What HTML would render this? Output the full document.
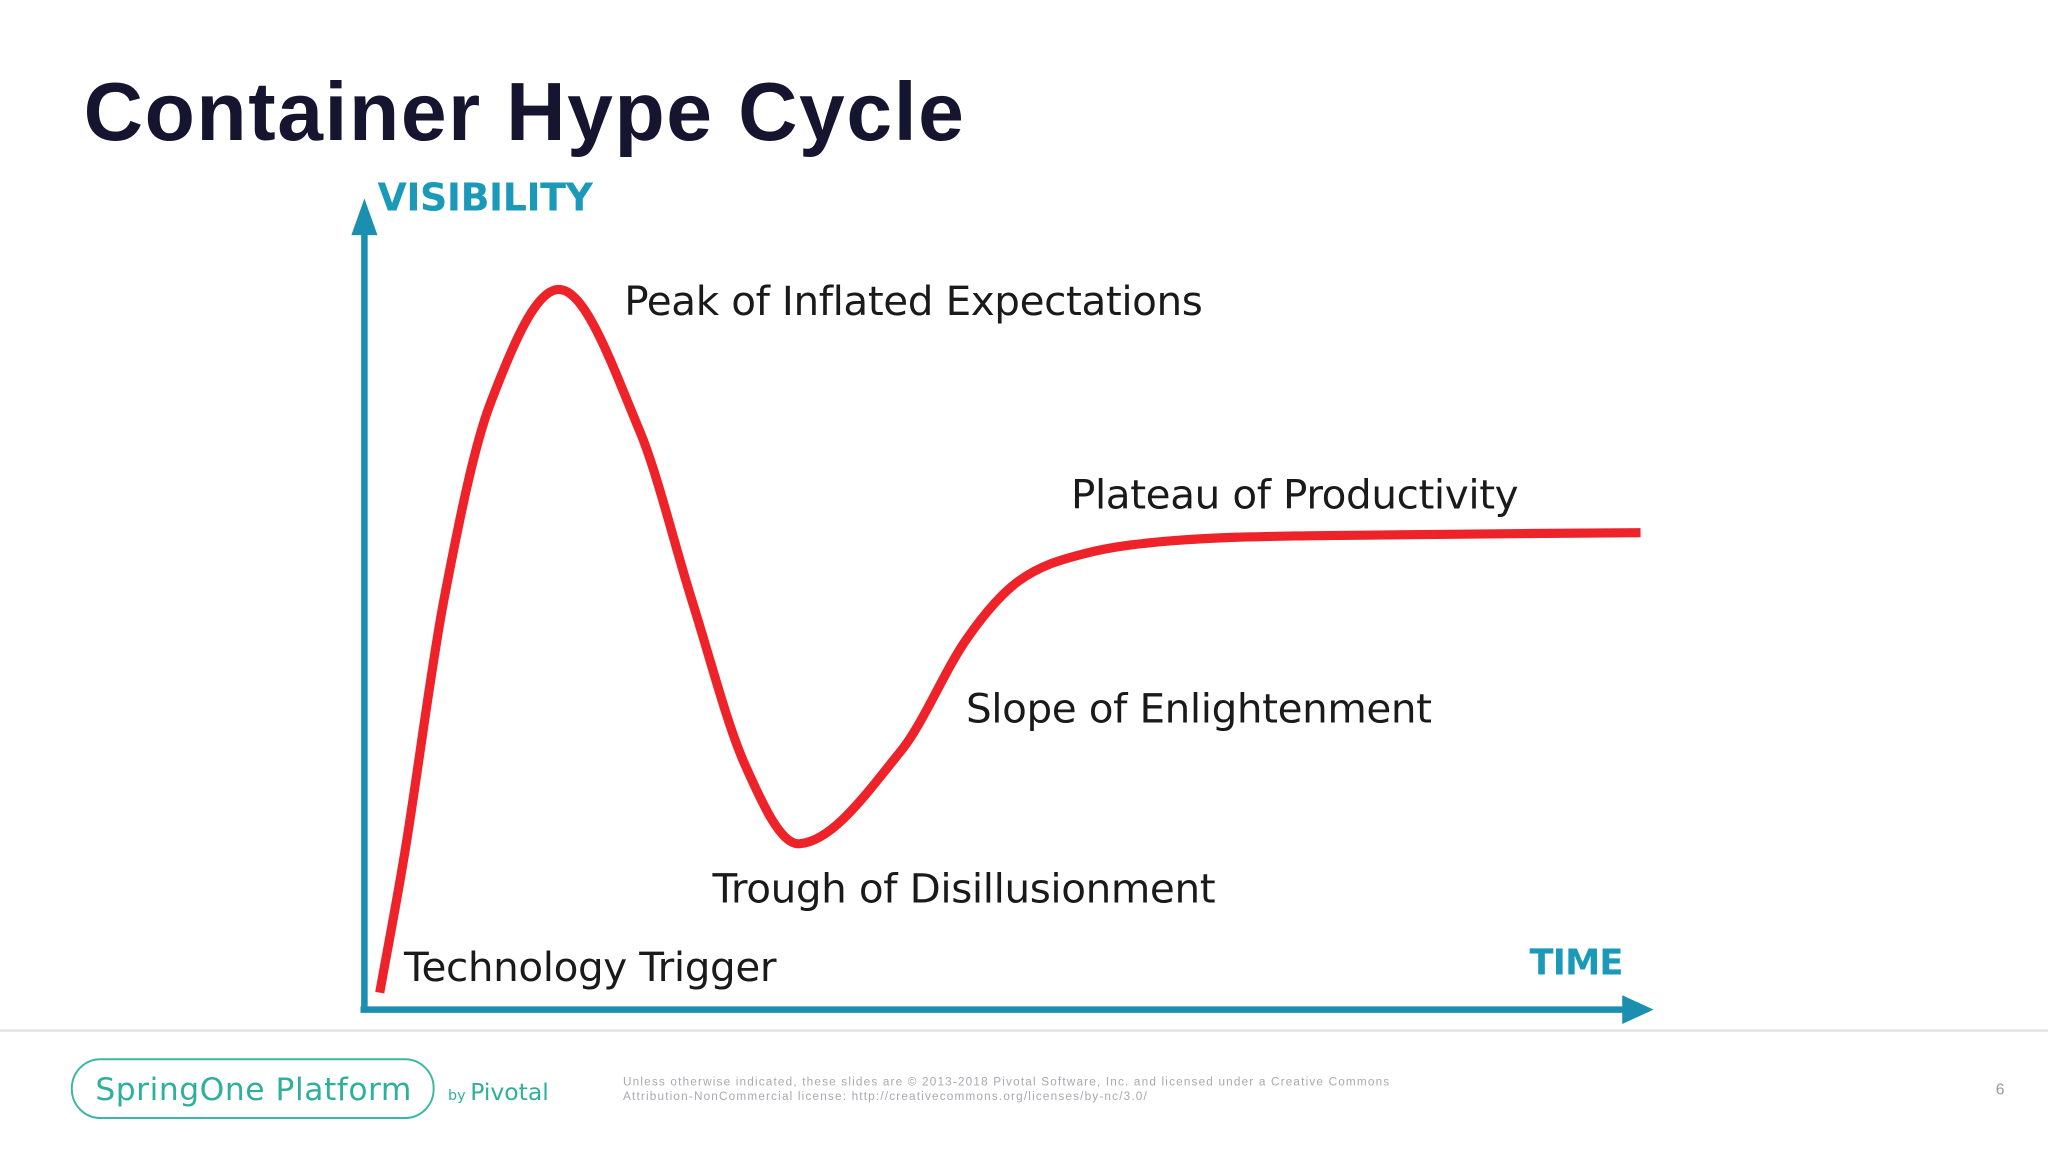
<!DOCTYPE html>
<html><head><meta charset="utf-8">
<style>
html,body{margin:0;padding:0;background:#fff;}
svg{display:block;}
</style></head>
<body>
<svg id="s" width="2048" height="1152" viewBox="0 0 1568 882" preserveAspectRatio="none" xmlns="http://www.w3.org/2000/svg">
<rect width="1568" height="882" fill="#fff"/>
<text x="64" y="107" font-family="Liberation Sans, sans-serif" font-weight="bold" font-size="63" fill="#151530" textLength="674">Container Hype Cycle</text>
<text x="289" y="161" font-family="DejaVu Sans, sans-serif" font-weight="bold" font-size="29" fill="#1a9ab8" textLength="165">VISIBILITY</text>
<text x="1171" y="746" font-family="DejaVu Sans, sans-serif" font-weight="bold" font-size="27" fill="#1a9ab8" textLength="72">TIME</text>
<g id="axes" fill="#1a8fb0" stroke="#1a8fb0">
<line x1="279" y1="775" x2="279" y2="168" stroke-width="5"/>
<polygon points="269,180 279,152 289,180" stroke="none"/>
<line x1="276" y1="773" x2="1250" y2="773" stroke-width="5"/>
<polygon points="1242,762 1266,773 1242,784" stroke="none"/>
</g>
<g id="curve"></g>
<g id="labels"></g>
<line x1="0" y1="789" x2="1568" y2="789" stroke="#e4e4e8" stroke-width="2"/>
<rect x="55" y="811" width="277" height="45" rx="22" fill="none" stroke="#3bb8a4" stroke-width="1.5"/>
<text x="73" y="842" font-family="DejaVu Sans, sans-serif" font-size="24" fill="#2fb09c" textLength="242">SpringOne Platform</text>
<text x="343" y="842" font-family="DejaVu Sans, sans-serif" font-size="18" fill="#2fb09c"><tspan font-size="11">by </tspan>Pivotal</text>
<text font-family="Liberation Sans, sans-serif" font-size="9" fill="#a8a8b0" letter-spacing="0.9">
<tspan x="477" y="831">Unless otherwise indicated, these slides are © 2013-2018 Pivotal Software, Inc. and licensed under a Creative Commons</tspan>
<tspan x="477" y="842">Attribution-NonCommercial license: http://creativecommons.org/licenses/by-nc/3.0/</tspan>
</text>
<text x="1528" y="838" font-family="Liberation Sans, sans-serif" font-size="12" fill="#999">6</text>
</svg>
<script>
const times=[1.3,3.3,6.3,9.9,15.5,21.6,25.7,29.8,34.1,42,47.1,51.2,56.3,63.5,73.7,99.8];
const visibility=[0,18.3,50,75,89.7,71.7,50,29.2,19,30.8,45,52.5,56,57.7,58.3,58.7];
const labelTexts=["Peak of Inflated Expectations","Plateau of Productivity","Slope of Enlightenment","Trough of Disillusionment","Technology Trigger"];
const labelTimes=[20.4,55.3,47.1,27.3,3.2];
const labelVis=[86.5,61.8,34.5,11.5,1.5];
const X0=278,XS=9.8,Y0=760,YS=6;
function xs(t){return X0+t*XS;}
function ys(v){return Y0-v*YS;}
const NS="http://www.w3.org/2000/svg";
const pts=times.map((t,i)=>[xs(t),ys(visibility[i])]);
const n=pts.length;
const m=pts.map((p,i)=>{
 const a=pts[Math.max(0,i-1)],b=pts[Math.min(n-1,i+1)];
 return (b[1]-a[1])/(b[0]-a[0]);
});
let d="M"+pts[0][0]+","+pts[0][1];
for(let i=0;i<n-1;i++){
 const p1=pts[i],p2=pts[i+1],dx=p2[0]-p1[0];
 d+=" C"+(p1[0]+dx/3)+","+(p1[1]+m[i]*dx/3)+" "+(p2[0]-dx/3)+","+(p2[1]-m[i+1]*dx/3)+" "+p2[0]+","+p2[1];
}
const path=document.createElementNS(NS,"path");


path.setAttribute("d",d);path.setAttribute("fill","none");path.setAttribute("stroke","#ee2229");
path.setAttribute("stroke-width","7");path.setAttribute("stroke-linecap","butt");path.setAttribute("stroke-linejoin","round");
document.getElementById("curve").appendChild(path);
const lg=document.getElementById("labels");
labelTexts.forEach((s,i)=>{
 const t=document.createElementNS(NS,"text");
 
 
 t.setAttribute("x",xs(labelTimes[i]));t.setAttribute("y",ys(labelVis[i]));
 t.setAttribute("font-family","DejaVu Sans, sans-serif");t.setAttribute("font-size","31");
 t.setAttribute("fill","#1a1a1a");t.setAttribute("letter-spacing","-0.3");
 t.textContent=s;lg.appendChild(t);
});
</script>
</body></html>
